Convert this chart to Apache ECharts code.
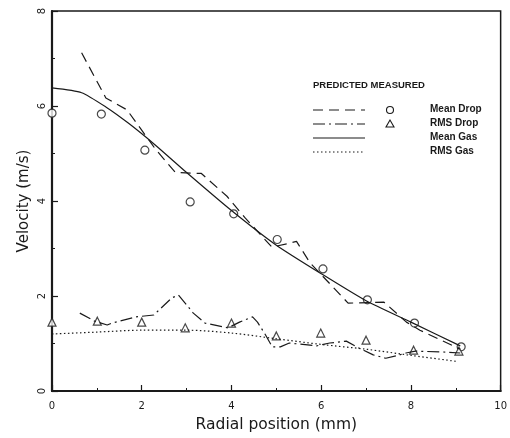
<!DOCTYPE html>
<html>
<head>
<meta charset="utf-8">
<script src="https://cdn.jsdelivr.net/npm/echarts@6/dist/echarts.min.js"></script>
<style>
  html, body { margin: 0; padding: 0; background: #fff; }
  #chart { width: 510px; height: 438px; }
</style>
</head>
<body>
<div id="chart"></div>
<script>
// values: [radial position (mm), velocity (m/s)]
var meanDropPred = [[0.66,7.12],[1.2,6.17],[1.67,5.92],[2.3,5.1],[2.75,4.6],[3.33,4.58],[3.9,4.1],[4.3,3.65],[4.9,3.03],[5.25,3.1],[5.45,3.15],[5.75,2.7],[6.0,2.45],[6.6,1.85],[7.4,1.87],[7.9,1.45],[8.2,1.28],[9.1,0.88]];
var rmsDropPred = [[0.62,1.64],[0.95,1.47],[1.23,1.39],[1.34,1.43],[1.87,1.56],[2.27,1.6],[2.67,1.96],[2.82,2.02],[3.15,1.64],[3.41,1.43],[3.92,1.33],[4.18,1.45],[4.47,1.56],[4.58,1.45],[4.76,1.18],[4.91,0.93],[5.09,0.93],[5.29,1.01],[5.9,0.95],[6.19,1.01],[6.56,1.05],[6.85,0.9],[7.16,0.76],[7.44,0.69],[7.67,0.74],[7.89,0.8],[8.1,0.84],[8.77,0.82],[9.1,0.8]];
var meanGasPred = [[0,6.38],[0.66,6.28],[1.2,5.98],[1.7,5.64],[2.3,5.18],[3.0,4.6],[4.0,3.8],[5.0,3.07],[6.0,2.47],[7.0,1.9],[8.0,1.45],[9.1,0.95]];
var rmsGasPred = [[0,1.2],[1,1.24],[2,1.28],[3,1.28],[4,1.22],[5,1.1],[6,0.98],[7,0.88],[8,0.75],[9.05,0.62]];
var meanDropMeas = [[0,5.85],[1.1,5.83],[2.07,5.07],[3.08,3.98],[4.05,3.73],[5.02,3.19],[6.04,2.57],[7.03,1.92],[8.08,1.43],[9.12,0.93]];
var rmsDropMeas = [[0,1.45],[1.01,1.47],[2.0,1.45],[2.97,1.33],[4.0,1.43],[5.0,1.16],[5.99,1.22],[7.0,1.07],[8.06,0.86],[9.07,0.84]];

var legendNames = ['Mean Drop', 'RMS Drop', 'Mean Gas', 'RMS Gas'];
var legendDash = [[10, 6], [12, 4, 2, 4], null, [1.5, 2.5]];

var ink = '#1a1a1a';
var chart = echarts.init(document.getElementById('chart'));

var legendGraphic = [
    {type: 'text', left: 313, top: 80, style: {text: 'PREDICTED MEASURED', font: 'bold 9.5px "Liberation Sans"', fill: ink}}
];
for (var i = 0; i < legendNames.length; i++) {
    var ly = 110 + i * 14;
    legendGraphic.push({type: 'line', shape: {x1: 313, y1: ly, x2: 365, y2: ly},
        style: {stroke: ink, lineWidth: 1.2, lineDash: legendDash[i]}});
    legendGraphic.push({type: 'text', left: 430, top: ly - 6, style: {text: legendNames[i], font: 'bold 10px "Liberation Sans"', fill: ink}});
}
legendGraphic.push({type: 'circle', shape: {cx: 390, cy: 110, r: 3.5}, style: {fill: '#fff', stroke: ink, lineWidth: 1.1}});
legendGraphic.push({type: 'polygon', shape: {points: [[390, 120], [386, 127], [394, 127]]}, style: {fill: '#fff', stroke: ink, lineWidth: 1.1}});

var option = {
    backgroundColor: '#fff',
    animation: false,
    grid: {left: 52, right: 7, top: 11, bottom: 47, show: true, borderColor: ink, borderWidth: 1.5},
    xAxis: {
        type: 'value', min: 0, max: 10, interval: 2,
        name: 'Radial position (mm)', nameLocation: 'middle', nameGap: 26,
        nameTextStyle: {fontFamily: 'DejaVu Sans', fontSize: 15.5, color: ink},
        axisLine: {lineStyle: {color: ink, width: 2.2}},
        axisTick: {inside: true, length: 6, lineStyle: {color: ink, width: 1.2}},
        minorTick: {show: true, splitNumber: 2, length: 3, lineStyle: {color: ink}},
        axisLabel: {fontFamily: 'DejaVu Sans', fontSize: 10, color: ink, margin: 10},
        splitLine: {show: false}
    },
    yAxis: {
        type: 'value', min: 0, max: 8, interval: 2,
        name: 'Velocity (m/s)', nameLocation: 'middle', nameGap: 20, nameMoveOverlap: false,
        nameTextStyle: {fontFamily: 'DejaVu Sans', fontSize: 15, color: ink},
        axisLine: {lineStyle: {color: ink, width: 2.2}},
        axisTick: {inside: true, length: 6, lineStyle: {color: ink, width: 1.2}},
        minorTick: {show: true, splitNumber: 2, length: 3, lineStyle: {color: ink}},
        axisLabel: {fontFamily: 'DejaVu Sans', fontSize: 10, color: ink, rotate: 90, margin: 5},
        splitLine: {show: false}
    },
    graphic: legendGraphic,
    series: [
        {name: 'Mean Drop', type: 'line', data: meanDropPred, showSymbol: false,
            lineStyle: {color: ink, width: 1.2, type: [10, 6]}},
        {name: 'RMS Drop', type: 'line', data: rmsDropPred, showSymbol: false,
            lineStyle: {color: ink, width: 1.2, type: [12, 4, 2, 4]}},
        {name: 'Mean Gas', type: 'line', data: meanGasPred, showSymbol: false, smooth: 0.2,
            lineStyle: {color: ink, width: 1.2}},
        {name: 'RMS Gas', type: 'line', data: rmsGasPred, showSymbol: false, smooth: 0.3,
            lineStyle: {color: ink, width: 1.2, type: [1.5, 2.5]}},
        {name: 'Mean Drop measured', type: 'scatter', data: meanDropMeas, symbol: 'circle', symbolSize: 8,
            itemStyle: {color: '#fff', borderColor: ink, borderWidth: 1.2}},
        {name: 'RMS Drop measured', type: 'scatter', data: rmsDropMeas, symbol: 'triangle', symbolSize: 8,
            itemStyle: {color: '#fff', borderColor: ink, borderWidth: 1.2}}
    ]
};
chart.setOption(option);
</script>
</body>
</html>
